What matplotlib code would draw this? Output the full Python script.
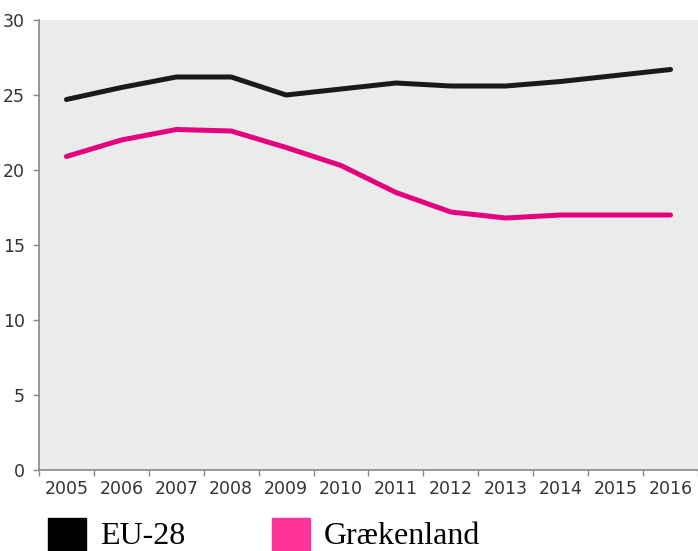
import matplotlib.pyplot as plt
from matplotlib.patches import Rectangle

years = ['2005', '2006', '2007', '2008', '2009', '2010',
         '2011', '2012', '2013', '2014', '2015', '2016']
eu28 = [24.7, 25.5, 26.2, 26.2, 25.0, 25.4, 25.8, 25.6, 25.6, 25.9, 26.3, 26.7]
greece = [20.9, 22.0, 22.7, 22.6, 21.5, 20.3, 18.5, 17.2, 16.8, 17.0, 17.0, 17.0]
series_names = ['EU-28', 'Grækenland']

W, H = 698, 551
fig = plt.figure(figsize=(W / 100, H / 100), dpi=100)
ax = fig.add_axes([39 / W, 1 - 470 / H, 1 - 39 / W, 450 / H])
ax.set_facecolor('#eaebeb')

x = list(range(len(years)))
ax.plot(x, eu28, color='#1a1a1a', lw=3.6, solid_capstyle='round')
ax.plot(x, greece, color='#e6007e', lw=3.6, solid_capstyle='round')

ax.set_xlim(-0.5, len(years) - 0.5)
ax.set_ylim(0, 30)
ax.set_yticks(range(0, 31, 5))
ax.set_xticks([i - 0.5 for i in range(len(years) + 1)])
ax.set_xticklabels([])
ax.set_xticks(x, minor=True)
ax.set_xticklabels(years, minor=True)
ax.tick_params(axis='x', which='minor', length=0, pad=7)
ax.tick_params(axis='both', which='major', length=4, color='#888888', width=1)
ax.tick_params(axis='y', pad=6)
for lab in ax.get_xticklabels(minor=True) + ax.get_yticklabels():
    lab.set_fontsize(12.5)
    lab.set_color('#333333')
    lab.set_family('DejaVu Sans')

for s in ['top', 'right']:
    ax.spines[s].set_visible(False)
for s in ['left', 'bottom']:
    ax.spines[s].set_color('#888888')
    ax.spines[s].set_linewidth(1.2)

# legend
colors = ['#000000', '#ff3399']
for i, (name, c) in enumerate(zip(series_names, colors)):
    x0 = (48 + i * 224) / W
    fig.patches.append(Rectangle((x0, 0), 38 / W, 33 / H, transform=fig.transFigure,
                                 color=c, clip_on=False))
    fig.text(x0 + 52 / W, 0.5 / H, name, fontsize=23, family='Liberation Serif',
             color='#000000', va='bottom')

fig.savefig('out.png', dpi=100)
